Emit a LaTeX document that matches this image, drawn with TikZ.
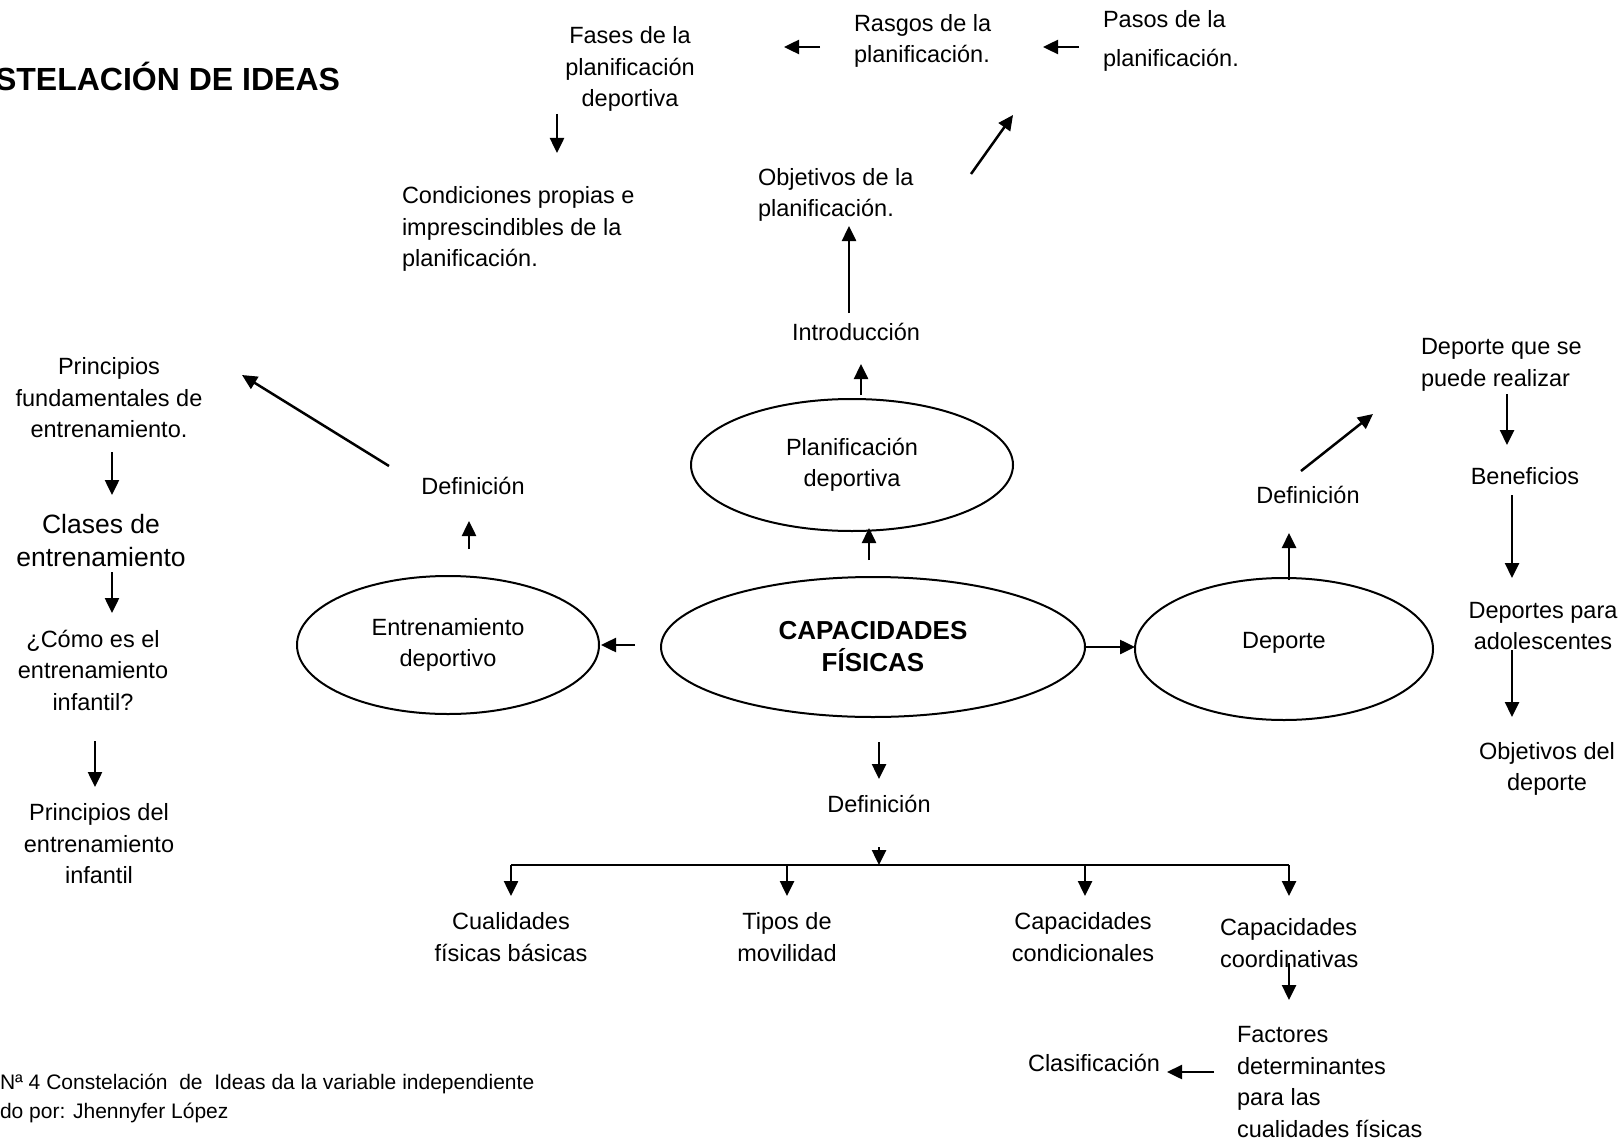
\documentclass[tikz,border=0pt]{standalone}
\usepackage{fontspec}
\setmainfont{Liberation Sans}
\usetikzlibrary{arrows.meta,shapes.geometric}

\begin{document}
\begin{tikzpicture}[x=1pt,y=-1pt,
  every node/.style={inner sep=0pt, outer sep=0pt},
  txt/.style={font=\fontsize{23.5}{31.5}\selectfont, align=center},
  txtl/.style={font=\fontsize{23.5}{31.5}\selectfont, align=left, anchor=west},
  bigtxt/.style={font=\fontsize{26.5}{33}\selectfont, align=center},
  bubble/.style={draw, ellipse, line width=2pt, font=\fontsize{23.5}{31.5}\selectfont, align=center},
  arr/.style={line width=2.5pt, -{Triangle[length=15pt,width=14pt]}},
  link/.style={line width=2.5pt},
]
\useasboundingbox (0,0) rectangle (1624,1142);

% heading and caption
\node[font=\fontsize{32}{38}\selectfont\bfseries, anchor=base east] (title) at (340,91) {STELACIÓN DE IDEAS};
\node[font=\fontsize{21}{29}\selectfont, align=left, anchor=west] (foot) at (0,1098)
  {Nª 4 Constelación\ \ de\ \ Ideas da la variable independiente\\do por: Jhennyfer López};

% central ellipses
\node[bubble, minimum width=424pt, minimum height=140pt, font=\fontsize{26}{32}\selectfont\bfseries] (cap) at (873,647) {CAPACIDADES\\FÍSICAS};
\node[bubble, minimum width=322pt, minimum height=132pt] (plan) at (852,465) {Planificación\\deportiva};
\node[bubble, minimum width=302pt, minimum height=138pt] (entr) at (448,645) {Entrenamiento\\deportivo};
\node[bubble, minimum width=298pt, minimum height=142pt, text height=17pt, text depth=19pt] (dep) at (1284,649) {Deporte};

% planning branch
\node[txt] (intro) at (856,332) {Introducción};
\node[txtl] (objp) at (758,195) {Objetivos de la\\planificación.};
\node[txtl] (pasos) at (1103,41) {Pasos de la\\[8pt]planificación.};
\node[txtl] (rasgos) at (854,41) {Rasgos de la\\planificación.};
\node[txt] (fases) at (630,69) {Fases de la\\planificación\\deportiva};
\node[txtl] (cond) at (402,229) {Condiciones propias e\\imprescindibles de la\\planificación.};

% training branch
\node[txt] (defl) at (473,486) {Definición};
\node[txt] (pfund) at (109,398) {Principios\\fundamentales de\\entrenamiento.};
\node[bigtxt] (clases) at (101,541) {Clases de\\entrenamiento};
\node[txt] (como) at (93,670) {¿Cómo es el\\entrenamiento\\infantil?};
\node[txt] (pinf) at (99,844) {Principios del\\entrenamiento\\infantil};

% sport branch
\node[txt] (defr) at (1308,495) {Definición};
\node[txtl] (puede) at (1421,365) {Deporte que se\\puede realizar};
\node[txt] (benef) at (1525,476) {Beneficios};
\node[txt] (adol) at (1543,626) {Deportes para\\adolescentes};
\node[txt] (objd) at (1547,769) {Objetivos del\\deporte};

% definition branch
\node[txt] (defb) at (879,804) {Definición};
\node[txt] (cual) at (511,937) {Cualidades\\físicas básicas};
\node[txt] (tipos) at (787,937) {Tipos de\\movilidad};
\node[txt] (ccond) at (1083,937) {Capacidades\\condicionales};
\node[txtl] (ccoord) at (1220,943) {Capacidades\\coordinativas};
\node[txtl] (fact) at (1237,1082) {Factores\\determinantes\\para las\\cualidades físicas};
\node[txt] (clasif) at (1094,1063) {Clasificación};

% arrow end points
\coordinate (fasesS) at (557,114);   \coordinate (condN) at (557,153);
\coordinate (rasgosW) at (820,47);   \coordinate (fasesE) at (784,47);
\coordinate (pasosW) at (1079,47);   \coordinate (rasgosE) at (1043,47);
\coordinate (objpNE) at (971,174);   \coordinate (rasgosS) at (1013,115);
\coordinate (introN) at (849,313);   \coordinate (objpS) at (849,226);
\coordinate (planN) at (861,395);    \coordinate (introS) at (861,364);
\coordinate (capN) at (869,560);     \coordinate (planS) at (869,528);
\coordinate (capW) at (635,645);     \coordinate (entrE) at (601,645);
\coordinate (depN) at (1289,580);    \coordinate (defrS) at (1289,533);
\coordinate (defrNE) at (1301,471);  \coordinate (puedeSW) at (1373,414);
\coordinate (puedeS) at (1507,394);  \coordinate (benefN) at (1507,445);
\coordinate (benefS) at (1512,495);  \coordinate (adolN) at (1512,578);
\coordinate (adolS) at (1512,650);   \coordinate (objdN) at (1512,717);
\coordinate (capS) at (879,742);     \coordinate (defbN) at (879,779);
\coordinate (defbS) at (879,847);    \coordinate (bar) at (879,865);
\coordinate (barL) at (511,865);     \coordinate (barR) at (1289,865);
\coordinate (cualN) at (511,896);    \coordinate (tiposT) at (787,865);
\coordinate (tiposN) at (787,896);   \coordinate (ccondT) at (1085,865);
\coordinate (ccondN) at (1085,896);  \coordinate (ccoordN) at (1289,896);
\coordinate (ccoordS) at (1289,963); \coordinate (factN) at (1289,1000);
\coordinate (factW) at (1214,1072);  \coordinate (clasifE) at (1167,1072);
\coordinate (pfundS) at (112,452);   \coordinate (clasesN) at (112,495);
\coordinate (clasesS) at (112,572);  \coordinate (comoN) at (112,613);
\coordinate (comoS) at (95,741);     \coordinate (pinfN) at (95,787);
\coordinate (deflNW) at (389,466);   \coordinate (pfundE) at (242,375);
\coordinate (entrN) at (469,549);    \coordinate (deflS) at (469,521);

% connectors
\draw[arr] (fasesS) -- (condN);
\draw[arr] (rasgosW) -- (fasesE);
\draw[arr] (pasosW) -- (rasgosE);
\draw[arr] (objpNE) -- (rasgosS);
\draw[arr] (introN) -- (objpS);
\draw[arr] (planN) -- (introS);
\draw[arr] (capN) -- (planS);
\draw[arr] (capW) -- (entrE);
\draw[arr] (cap.east) -- (cap.east -| dep.west);
\draw[arr] (depN) -- (defrS);
\draw[arr] (defrNE) -- (puedeSW);
\draw[arr] (puedeS) -- (benefN);
\draw[arr] (benefS) -- (adolN);
\draw[arr] (adolS) -- (objdN);
\draw[arr] (capS) -- (defbN);
\draw[arr] (defbS) -- (bar);
\draw[link] (barL) -- (barR);
\draw[arr] (barL) -- (cualN);
\draw[arr] (tiposT) -- (tiposN);
\draw[arr] (ccondT) -- (ccondN);
\draw[arr] (barR) -- (ccoordN);
\draw[arr] (ccoordS) -- (factN);
\draw[arr] (factW) -- (clasifE);
\draw[arr] (pfundS) -- (clasesN);
\draw[arr] (clasesS) -- (comoN);
\draw[arr] (comoS) -- (pinfN);
\draw[arr] (deflNW) -- (pfundE);
\draw[arr] (entrN) -- (deflS);
\end{tikzpicture}
\end{document}
